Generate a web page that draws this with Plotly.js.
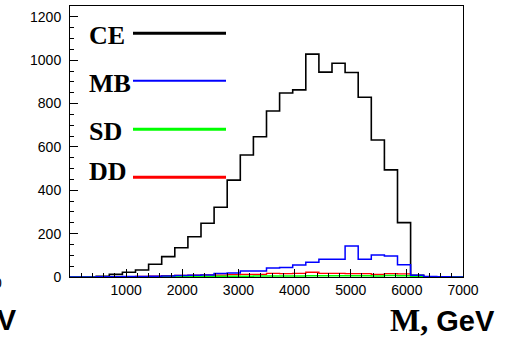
<!DOCTYPE html>
<html>
<head>
<meta charset="utf-8">
<script src="https://cdn.plot.ly/plotly-3.0.1.min.js"></script>
<style>html,body{margin:0;padding:0;background:#fff;}#chart{width:506px;height:337px;}</style>
</head>
<body>
<div id="chart"></div>
<script>
// ---- data (30 bins from 0 to 7000 GeV) ----
const binLow = 0;
const binHigh = 7000;
const nBins = 30;
const seriesNames = ['CE', 'MB', 'SD', 'DD'];
const ce = [0, 0, 3, 12, 22, 32, 59, 94, 135, 186, 248, 322, 447, 563, 647, 766, 849, 863, 1028, 945, 986, 943, 829, 632, 494, 251, 8, 0, 0, 0];
const mb = [0, 0, 1, 1, 2, 2, 3, 5, 7, 8, 9, 16, 18, 28, 28, 42, 44, 55, 68, 82, 82, 143, 82, 102, 97, 56, 8, 2, 1, 0];
const sd = [0, 0, 0, 0, 1, 1, 1, 2, 2, 3, 3, 4, 4, 4, 5, 5, 5, 5, 6, 6, 6, 6, 6, 5, 7, 6, 1, 0, 0, 0];
const dd = [0, 0, 0, 1, 2, 3, 4, 6, 7, 9, 10, 9, 11, 12, 12, 17, 16, 17, 22, 17, 17, 16, 16, 12, 16, 14, 1, 0, 0, 0];
const xTickVals = [1000, 2000, 3000, 4000, 5000, 6000, 7000];
const yTickVals = [0, 200, 400, 600, 800, 1000, 1200];

// ---- helpers ----
const binW = (binHigh - binLow) / nBins;
const edges = [];
for (let i = 0; i <= nBins; i++) edges.push(binLow + i * binW);
function stepY(v) { return v.concat([v[v.length - 1]]); }

const colors = {CE: '#000000', MB: '#0000ff', SD: '#00ff00', DD: '#ff0000'};
const widths = {CE: 1.6, MB: 1.5, SD: 1.5, DD: 1.3};
const values = {CE: ce, MB: mb, SD: sd, DD: dd};
const drawOrder = ['CE', 'DD', 'SD', 'MB'];

const traces = drawOrder.map(n => ({
  type: 'scatter', mode: 'lines', x: edges, y: stepY(values[n]),
  line: {shape: 'hv', color: colors[n], width: widths[n]},
  hoverinfo: 'skip', showlegend: false, name: n
}));

// layout geometry (pixels)
const W = 506, H = 337;
const PL = 70, PR = 463, PT = 6, PB = 277;
function px(x) { return (x - PL) / (PR - PL); }
function py(y) { return (PB - y) / (PB - PT); }

const legTextY = {CE: 35, MB: 83.5, SD: 131, DD: 171.5};
const legLineY = {CE: 33.3, MB: 80.7, SD: 129.3, DD: 177.3};
const legLineW = {CE: 3, MB: 2, SD: 3, DD: 3};

const annotations = [];
const shapes = [];
seriesNames.forEach(n => {
  annotations.push({
    xref: 'paper', yref: 'paper', x: px(87), y: py(legTextY[n]),
    xanchor: 'left', yanchor: 'middle', showarrow: false, text: n,
    font: {family: 'Liberation Serif, Times New Roman, serif', size: 26, color: '#000', weight: 'bold'}
  });
  shapes.push({
    type: 'line', xref: 'paper', yref: 'paper',
    x0: px(133), x1: px(226), y0: py(legLineY[n]), y1: py(legLineY[n]),
    line: {color: colors[n], width: legLineW[n]}
  });
});
// axis title at bottom right
annotations.push({
  xref: 'paper', yref: 'paper', x: px(497), y: py(320),
  xanchor: 'right', yanchor: 'middle', showarrow: false,
  text: '<span style="font-family:Liberation Serif, Times New Roman, serif;font-size:32px">M,</span> GeV',
  font: {family: 'Liberation Sans, Arial, sans-serif', size: 29, color: '#000', weight: 'bold'}
});
// fragments of the neighbouring panel at the left edge
annotations.push({
  xref: 'paper', yref: 'paper', x: px(19), y: py(320),
  xanchor: 'right', yanchor: 'middle', showarrow: false,
  text: 'GeV',
  font: {family: 'Liberation Sans, Arial, sans-serif', size: 29, color: '#000', weight: 'bold'}
});
annotations.push({
  xref: 'paper', yref: 'paper', x: px(4), y: py(283),
  xanchor: 'right', yanchor: 'middle', showarrow: false,
  text: '0',
  font: {family: 'Liberation Sans, Arial, sans-serif', size: 14, color: '#000'}
});

const layout = {
  width: W, height: H,
  margin: {l: PL, r: W - PR, t: PT, b: H - PB, pad: 0},
  paper_bgcolor: '#fff', plot_bgcolor: '#fff',
  showlegend: false,
  xaxis: {
    range: [binLow, binHigh], showgrid: false, zeroline: false,
    showline: true, linecolor: '#000', linewidth: 1, mirror: true,
    ticks: 'inside', ticklen: 8, tickcolor: '#000', tickwidth: 1,
    tickmode: 'array', tickvals: xTickVals, ticktext: xTickVals.map(String),
    minor: {dtick: 200, ticks: 'inside', ticklen: 4, tickcolor: '#000', showgrid: false},
    tickfont: {family: 'Liberation Sans, Arial, sans-serif', size: 14, color: '#000'}
  },
  yaxis: {
    range: [0, 1250], showgrid: false, zeroline: false,
    showline: true, linecolor: '#000', linewidth: 1, mirror: true,
    ticks: 'inside', ticklen: 8, tickcolor: '#000', tickwidth: 1,
    tickmode: 'array', tickvals: yTickVals, ticktext: yTickVals.map(String),
    minor: {dtick: 50, ticks: 'inside', ticklen: 4, tickcolor: '#000', showgrid: false},
    tickfont: {family: 'Liberation Sans, Arial, sans-serif', size: 14, color: '#000'},
    ticklabelstandoff: 5
  },
  annotations: annotations,
  shapes: shapes
};

Plotly.newPlot('chart', traces, layout, {displayModeBar: false, staticPlot: true});
</script>
</body>
</html>
